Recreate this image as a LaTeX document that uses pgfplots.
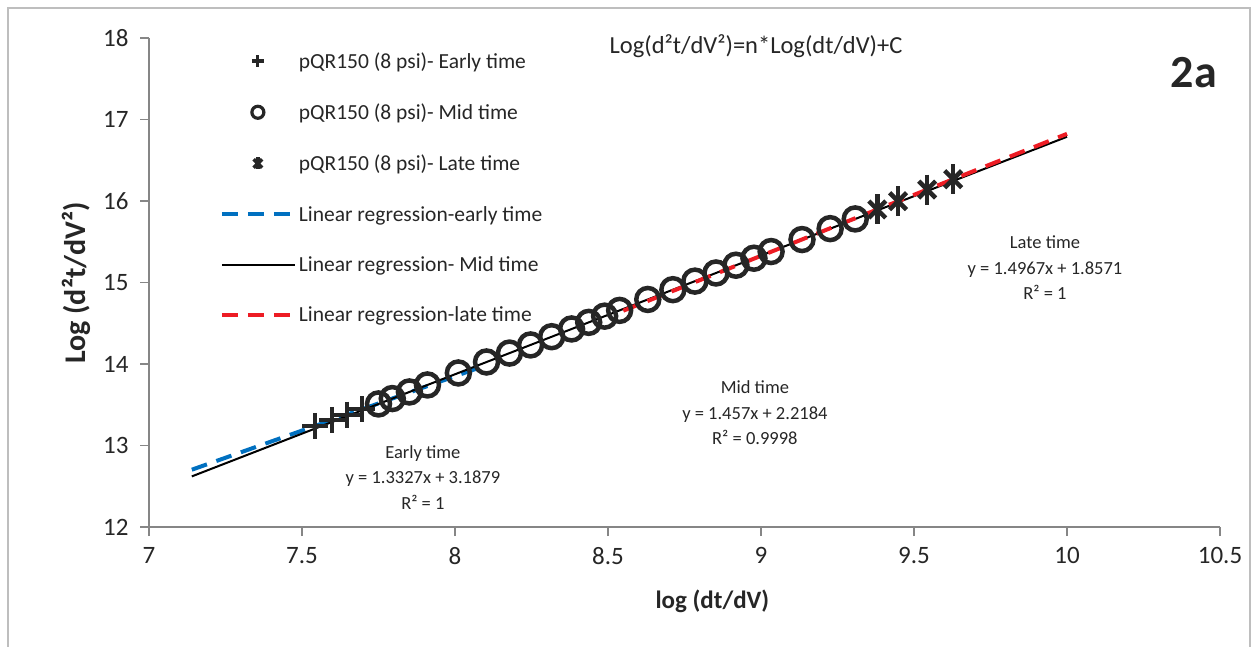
\documentclass[border=0pt]{standalone}
\usepackage{fontspec}
\setmainfont{Carlito}
\usepackage{pgfplots}
\usepackage{pgfplotstable}
\pgfplotsset{compat=1.18}

\definecolor{xlblue}{RGB}{0,112,192}
\definecolor{xlred}{RGB}{237,28,36}
\definecolor{axgray}{RGB}{134,134,134}
\definecolor{frame}{RGB}{190,190,190}
\definecolor{txt}{RGB}{38,38,38}

\pgfplotstableread{
x y
7.543 13.240
7.599 13.315
7.648 13.380
7.697 13.446
}\early
\pgfplotstableread{
x y
7.750 13.510
7.795 13.576
7.851 13.657
7.910 13.743
8.011 13.890
8.103 14.025
8.178 14.134
8.247 14.234
8.316 14.335
8.381 14.430
8.437 14.511
8.489 14.587
8.538 14.658
8.630 14.792
8.712 14.912
8.784 15.017
8.853 15.117
8.918 15.212
8.977 15.298
9.033 15.380
9.134 15.527
9.226 15.661
9.308 15.780
}\mid
\pgfplotstableread{
x y
9.380 15.896
9.448 15.998
9.543 16.140
9.628 16.267
}\late
\pgfplotstableread{
x y
7.14 12.703
8.10 13.983
}\fitearly
\pgfplotstableread{
x y
7.14 12.621
10.00 16.788
}\fitmid
\pgfplotstableread{
x y
8.55 14.654
10.00 16.824
}\fitlate

\pgfplotsset{
  marklegend/.style={legend image code/.code={%
    \draw[##1, mark size=6pt, line width=3.2pt] plot coordinates {(36pt,0pt)};}},
  starlegend/.style={legend image code/.code={%
    \draw[##1, mark=x, mark size=6pt, line width=3.4pt] plot coordinates {(36pt,0pt)};
    \draw[##1, mark=|, mark size=6pt, line width=3.4pt] plot coordinates {(36pt,0pt)};}},
  linelegend/.style={legend image code/.code={%
    \draw[##1] (0pt,0pt) -- (73pt,0pt);}},
}

\begin{document}
\begin{tikzpicture}
\useasboundingbox (0,0) rectangle (1258pt,646pt);
\draw[frame, line width=1.5pt] (8pt,-10pt) -- (8pt,638pt) -- (1250pt,638pt) -- (1250pt,-10pt);
\begin{axis}[
  at={(149pt,119pt)}, anchor=south west,
  scale only axis, width=1071pt, height=489pt,
  xmin=7, xmax=10.5, ymin=12, ymax=18,
  xtick={7,7.5,8,8.5,9,9.5,10,10.5},
  ytick={12,13,14,15,16,17,18},
  axis x line*=bottom, axis y line*=left,
  axis line style={axgray, line width=1.5pt, -},
  tick style={axgray, line width=1.5pt},
  tick align=outside, major tick length=9pt,
  /pgf/number format/assume math mode=true,
  /pgf/number format/fixed,
  ticklabel style={font=\fontsize{25}{29}\selectfont, text=txt},
  yticklabel style={xshift=-8pt},
  xticklabel style={yshift=-8pt},
  xlabel={log (dt/dV)},
  ylabel={Log (d²t/dV²)},
  xlabel style={font=\fontsize{25}{29}\selectfont\bfseries, text=txt,
    at={(axis description cs:0.526,-0.153)}, anchor=center},
  ylabel style={font=\fontsize{30}{34}\selectfont\bfseries, text=txt,
    at={(axis description cs:-0.068,0.499)}, anchor=center, rotate=0},
  legend cell align=left,
  legend style={at={(0.066,0.975)}, anchor=north west, draw=none, fill=none,
    font=\fontsize{21.5}{25}\selectfont, text=txt, row sep=30pt, inner sep=0pt,
    nodes={inner sep=2pt}},
  clip=false,
]
\addplot[only marks, mark=+, mark size=13pt, line width=4pt, txt, marklegend] table {\early};
\addlegendentry{pQR150 (8 psi)- Early time}
\addplot[only marks, mark=o, mark size=11.5pt, line width=4.5pt, txt, marklegend] table {\mid};
\addlegendentry{pQR150 (8 psi)- Mid time}
\addplot[only marks, mark=x, mark size=12pt, line width=4.5pt, txt, starlegend] table {\late};
\addlegendentry{pQR150 (8 psi)- Late time}
\addplot[only marks, mark=|, mark size=15pt, line width=4.5pt, txt, forget plot] table {\late};
\addplot[xlblue, line width=4pt, dash pattern=on 16pt off 10pt, linelegend] table {\fitearly};
\addlegendentry{Linear regression-early time}
\addplot[black, line width=2pt, linelegend] table {\fitmid};
\addlegendentry{Linear regression- Mid time}
\addplot[xlred, line width=4pt, dash pattern=on 16pt off 10pt, linelegend] table {\fitlate};
\addlegendentry{Linear regression-late time}

\node[font=\fontsize{24.5}{28}\selectfont, text=txt] at (axis cs:8.984,17.90) {Log(d²t/dV²)=n*Log(dt/dV)+C};
\node[font=\fontsize{46}{50}\selectfont\bfseries, text=txt] at (axis cs:10.415,17.57) {2a};
\node[font=\fontsize{18.5}{25.5}\selectfont, text=txt, align=center] at (axis cs:7.895,12.61)
  {Early time\\y = 1.3327x + 3.1879\\R² = 1};
\node[font=\fontsize{18.5}{25.5}\selectfont, text=txt, align=center] at (axis cs:8.98,13.40)
  {Mid time\\y = 1.457x + 2.2184\\R² = 0.9998};
\node[font=\fontsize{18.5}{25.5}\selectfont, text=txt, align=center] at (axis cs:9.928,15.18)
  {Late time\\y = 1.4967x + 1.8571\\R² = 1};
\end{axis}
\end{tikzpicture}
\end{document}
